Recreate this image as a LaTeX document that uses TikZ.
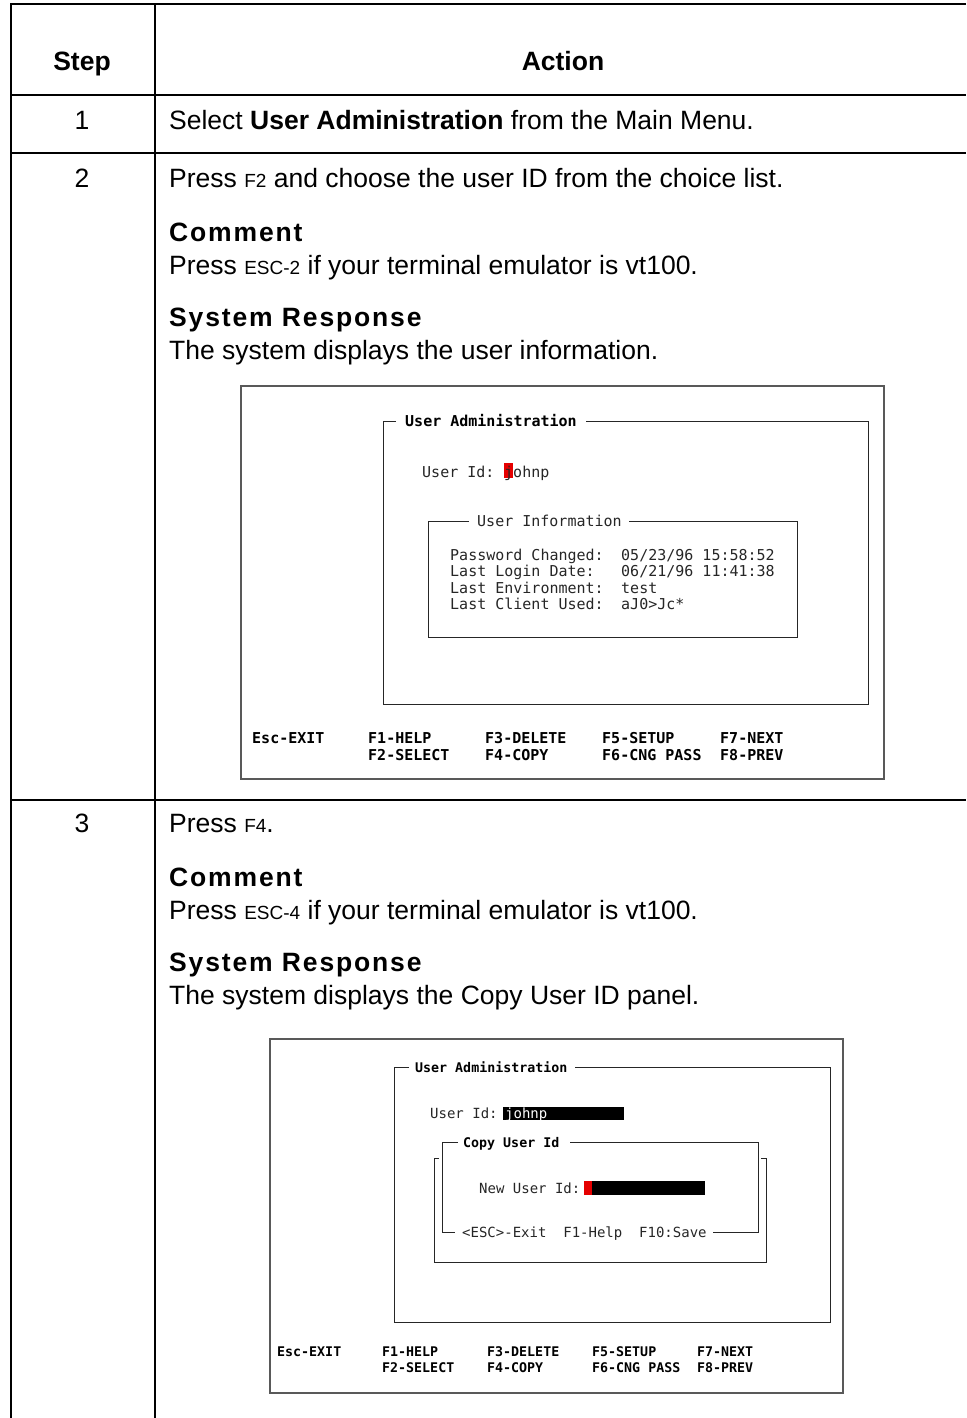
\documentclass[tikz,border=0pt]{standalone}
\usepackage{fontspec}
\setmainfont{Liberation Sans}
\newfontfamily\termfont{DejaVu Sans Mono}
\newfontfamily\spacedfont{Liberation Sans}[LetterSpace=7]
\newcommand\keyf[1]{{\fontsize{19}{22}\selectfont #1}}
\tikzset{
 tbl/.style={line width=2.2pt, draw=black},
 body/.style={anchor=base west, inner sep=0pt, font=\fontsize{26.5}{30}\selectfont},
 stepno/.style={anchor=base, inner sep=0pt, font=\fontsize{26.5}{30}\selectfont},
 hdr/.style={anchor=base, inner sep=0pt, font=\fontsize{26.5}{30}\selectfont\bfseries},
 subhd/.style={anchor=base west, inner sep=0pt, font=\spacedfont\bfseries\fontsize{26.5}{30}\selectfont},
 shotbox/.style={draw=black!65, line width=1.3pt},
 frm/.style={draw=black!85, line width=1pt},
 termA/.style={anchor=base west, inner sep=0pt, font=\termfont\fontsize{15}{18}\selectfont, text=black!85},
 termAb/.style={anchor=base west, inner sep=0pt, font=\termfont\bfseries\fontsize{15}{18}\selectfont, text=black},
 termB/.style={anchor=base west, inner sep=0pt, font=\termfont\fontsize{14}{17}\selectfont, text=black!85},
 termBb/.style={anchor=base west, inner sep=0pt, font=\termfont\bfseries\fontsize{13.3}{16}\selectfont, text=black},
 cursor/.style={fill=red!90!black},
 field/.style={fill=black},
}
\begin{document}
\begin{tikzpicture}[x=1pt,y=-1pt]
\useasboundingbox (0,0) rectangle (966,1418);
% table grid
\draw[tbl] (966,4) -- (11,4) -- (11,1418);
\draw[tbl] (155,4) -- (155,1418);
\draw[tbl] (11,95) -- (966,95);
\draw[tbl] (11,153) -- (966,153);
\draw[tbl] (11,800) -- (966,800);
% header
\node[hdr] (hstep) at (82,70.5) {Step};
\node[hdr] (hact) at (563,70.5) {Action};
% row 1
\node[stepno] (n1) at (82,129.5) {1};
\node[body] (a1) at (169,129.5) {Select \textbf{User Administration} from the Main Menu.};
% row 2
\node[stepno] (n2) at (82,187.5) {2};
\node[body] (a2) at (169,187.5) {Press \keyf{F2} and choose the user ID from the choice list.};
\node[subhd] (c2) at (169,241.5) {Comment};
\node[body] (c2t) at (169,274.5) {Press \keyf{ESC-2} if your terminal emulator is vt100.};
\node[subhd] (s2) at (169,326.5) {System Response};
\node[body] (s2t) at (169,359.5) {The system displays the user information.};
% screenshot 1
\draw[shotbox] (241,386) rectangle (884,779);
\draw[frm] (396,421) -- (383,421) -- (383,704) -- (868,704) -- (868,421) -- (586,421);
\node[termAb] (ua1) at (405,426.5) {User Administration};
\node[termA] (uid1) at (422,477.5) {User Id:};
\fill[cursor] (504,463) rectangle (513,478);
\node[termA] (jn1) at (504,477.5) {johnp};
\draw[frm] (469,521) -- (428,521) -- (428,637) -- (797,637) -- (797,521) -- (629,521);
\node[termA] (uinf) at (477,526.5) {User Information};
\node[termA] (l1) at (450,560.5) {Password Changed:};
\node[termA] (v1) at (621,560.5) {05/23/96 15:58:52};
\node[termA] (l2) at (450,576.5) {Last Login Date:};
\node[termA] (v2) at (621,576.5) {06/21/96 11:41:38};
\node[termA] (l3) at (450,593) {Last Environment:};
\node[termA] (v3) at (621,593) {test};
\node[termA] (l4) at (450,609.5) {Last Client Used:};
\node[termA] (v4) at (621,609.5) {aJ0>Jc*};
\node[termAb] (k1a) at (252,743.5) {Esc-EXIT};
\node[termAb] (k1b) at (368,743.5) {F1-HELP};
\node[termAb] (k1c) at (368,760.5) {F2-SELECT};
\node[termAb] (k1d) at (485,743.5) {F3-DELETE};
\node[termAb] (k1e) at (485,760.5) {F4-COPY};
\node[termAb] (k1f) at (602,743.5) {F5-SETUP};
\node[termAb] (k1g) at (602,760.5) {F6-CNG PASS};
\node[termAb] (k1h) at (720,743.5) {F7-NEXT};
\node[termAb] (k1i) at (720,760.5) {F8-PREV};
% row 3
\node[stepno] (n3) at (82,832.5) {3};
\node[body] (a3) at (169,832.5) {Press \keyf{F4}.};
\node[subhd] (c3) at (169,886.5) {Comment};
\node[body] (c3t) at (169,919.5) {Press \keyf{ESC-4} if your terminal emulator is vt100.};
\node[subhd] (s3) at (169,971.5) {System Response};
\node[body] (s3t) at (169,1004.5) {The system displays the Copy User ID panel.};
% screenshot 2
\draw[shotbox] (270,1039) rectangle (843,1393);
\draw[frm] (409,1067) -- (394,1067) -- (394,1322) -- (830,1322) -- (830,1067) -- (575,1067);
\node[termBb] (ua2) at (415,1072) {User Administration};
\node[termB] (uid2) at (430,1118) {User Id:};
\fill[field] (503,1107) rectangle (624,1120);
\node[termB, text=white] (jn2) at (505,1118) {johnp};
\draw[frm] (439,1158) -- (434,1158) -- (434,1262) -- (766,1262) -- (766,1158) -- (761,1158);
\draw[frm] (458,1142) -- (442,1142) -- (442,1232) -- (455,1232);
\draw[frm] (713,1232) -- (758,1232) -- (758,1142) -- (570,1142);
\node[termBb] (cu) at (463,1147) {Copy User Id};
\node[termB] (nu) at (479,1193) {New User Id:};
\fill[cursor] (584,1181) rectangle (592,1195);
\fill[field] (592,1181) rectangle (705,1195);
\node[termB] (cbar) at (462,1237) {<ESC>-Exit\ \ F1-Help\ \ F10:Save};
\node[termBb] (k2a) at (277,1356) {Esc-EXIT};
\node[termBb] (k2b) at (382,1356) {F1-HELP};
\node[termBb] (k2c) at (382,1372) {F2-SELECT};
\node[termBb] (k2d) at (487,1356) {F3-DELETE};
\node[termBb] (k2e) at (487,1372) {F4-COPY};
\node[termBb] (k2f) at (592,1356) {F5-SETUP};
\node[termBb] (k2g) at (592,1372) {F6-CNG PASS};
\node[termBb] (k2h) at (697,1356) {F7-NEXT};
\node[termBb] (k2i) at (697,1372) {F8-PREV};
\end{tikzpicture}
\end{document}
